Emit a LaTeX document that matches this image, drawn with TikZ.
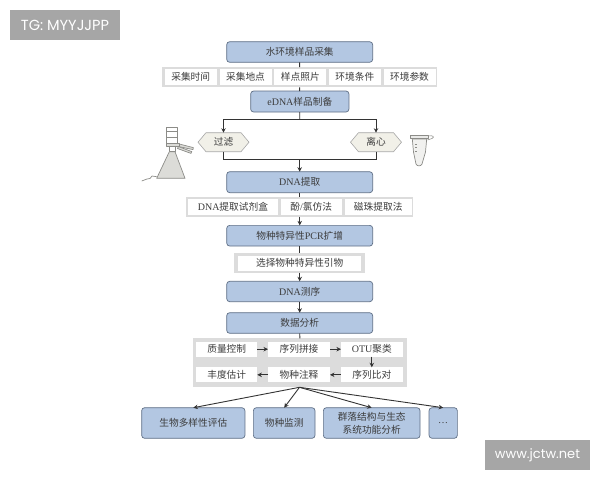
\documentclass[tikz,border=0pt]{standalone}
\usepackage{fontspec}
\setmainfont{Liberation Serif}
\newfontfamily\cjk{Noto Sans CJK SC}[Scale=0.97]
\newfontfamily\wm{Poppins}
\newcommand{\zh}[1]{{\cjk #1}}
\usetikzlibrary{arrows.meta,shapes.symbols}
\definecolor{boxblue}{HTML}{B3C7E2}
\definecolor{boxedge}{HTML}{5F6F85}
\definecolor{rowgrey}{HTML}{DCDCDC}
\definecolor{hexfill}{HTML}{F1F0E8}
\definecolor{inktext}{HTML}{3C3C3C}
\definecolor{wmgrey}{HTML}{A6A6A6}
\definecolor{flaskgrey}{HTML}{DCDCD8}
\definecolor{flaskedge}{HTML}{8C8C88}
\tikzset{
  x=1pt,y=-1pt,
  every node/.style={inner sep=0pt,outer sep=0pt,text=inktext,font=\fontsize{10}{12}\selectfont,align=center},
  bluebox/.style={draw=boxedge,line width=0.7pt,fill=boxblue,rounded corners=3pt},
  greyrow/.style={fill=rowgrey},
  cell/.style={fill=white},
  hexbox/.style={draw=gray!70,line width=0.6pt,fill=hexfill,signal,signal to=east and west,signal pointer angle=100,minimum width=51pt,minimum height=19pt},
  line/.style={draw=black!80,line width=0.9pt},
  arrow/.style={line,-{Stealth[length=4.5pt,width=4.5pt]}},
  wmbox/.style={fill=wmgrey,text=white},
  flask/.style={draw=flaskedge,line width=0.7pt,fill=flaskgrey,line join=round},
}
\begin{document}
\begin{tikzpicture}
\useasboundingbox (0,0) rectangle (600,480);
% watermarks
\node[wmbox,minimum width=110pt,minimum height=30pt,font=\wm\fontsize{14.6}{15}\selectfont] (tg) at (65,25) {TG: MYYJJPP};
\node[wmbox,minimum width=105pt,minimum height=30pt,font=\wm\fontsize{13}{14}\selectfont] (web) at (537.5,455) {www.jctw.net};
% main column
\node[bluebox,minimum width=146pt,minimum height=20.6pt] (top) at (299.7,52) {\zh{水环境样品采集}};
\node[greyrow,minimum width=275pt,minimum height=20.3pt] (row1) at (299.5,77.2) {};
\node[cell,minimum width=52pt,minimum height=16.3pt] (c1) at (190.7,77.2) {\zh{采集时间}};
\node[cell,minimum width=52pt,minimum height=16.3pt] (c2) at (245.5,77.2) {\zh{采集地点}};
\node[cell,minimum width=52pt,minimum height=16.3pt] (c3) at (300.3,77.2) {\zh{样点照片}};
\node[cell,minimum width=52pt,minimum height=16.3pt] (c4) at (354.8,77.2) {\zh{环境条件}};
\node[cell,minimum width=52pt,minimum height=16.3pt] (c5) at (409.5,77.2) {\zh{环境参数}};
\node[bluebox,minimum width=98.3pt,minimum height=21pt] (edna) at (299.8,101.5) {eDNA\zh{样品制备}};
\node[hexbox] (hexl) at (223.5,142.2) {\zh{过滤}};
\node[hexbox] (hexr) at (376,142.2) {\zh{离心}};
\node[bluebox,minimum width=146pt,minimum height=21pt] (dna) at (299.7,182.2) {DNA\zh{提取}};
\node[greyrow,minimum width=227.3pt,minimum height=19.4pt] (row2) at (299.7,207) {};
\node[cell,minimum width=89.3pt,minimum height=15.3pt] (k1) at (232.9,207) {DNA\zh{提取试剂盒}};
\node[cell,minimum width=61pt,minimum height=15.3pt] (k2) at (311.2,207) {\zh{酚}/\zh{氯仿法}};
\node[cell,minimum width=67pt,minimum height=15.3pt] (k3) at (378.2,207) {\zh{磁珠提取法}};
\node[bluebox,minimum width=146pt,minimum height=20.7pt] (pcr) at (299.7,235.7) {\zh{物种特异性}PCR\zh{扩增}};
\node[greyrow,minimum width=130.7pt,minimum height=19.4pt] (row3) at (299.7,263) {};
\node[cell,minimum width=122.7pt,minimum height=15pt] (primer) at (299.7,263) {\zh{选择物种特异性引物}};
\node[bluebox,minimum width=146pt,minimum height=20.4pt] (seq) at (299.7,291.5) {DNA\zh{测序}};
\node[bluebox,minimum width=146pt,minimum height=20.6pt] (data) at (299.7,323) {\zh{数据分析}};
\node[greyrow,minimum width=214.6pt,minimum height=49pt] (panel) at (300,362.8) {};
\node[cell,minimum width=61.3pt,minimum height=15pt] (qc) at (226.7,349.2) {\zh{质量控制}};
\node[cell,minimum width=62pt,minimum height=15pt] (join) at (299,349.2) {\zh{序列拼接}};
\node[cell,minimum width=61.7pt,minimum height=15pt] (otu) at (371.8,349.2) {OTU\zh{聚类}};
\node[cell,minimum width=61.3pt,minimum height=15pt] (abund) at (226.7,374.8) {\zh{丰度估计}};
\node[cell,minimum width=62pt,minimum height=15pt] (annot) at (299,374.8) {\zh{物种注释}};
\node[cell,minimum width=61.7pt,minimum height=15pt] (align) at (371.8,374.8) {\zh{序列比对}};
\node[bluebox,minimum width=103.3pt,minimum height=30.6pt] (b1) at (193.3,423) {\zh{生物多样性评估}};
\node[bluebox,minimum width=61.7pt,minimum height=30.6pt] (b2) at (284.2,423) {\zh{物种监测}};
\node[bluebox,minimum width=96.7pt,minimum height=30.6pt] (b3) at (371.7,423) {\zh{群落结构与生态}\\[1pt]\zh{系统功能分析}};
\node[bluebox,minimum width=28.3pt,minimum height=30.6pt] (b4) at (443.2,423) {…};
% connectors
\coordinate (split) at (299.7,119.3);
\coordinate (merge) at (299.7,159.3);
\coordinate (fan) at (299.5,387.3);
\draw[line] (top) -- (row1);
\draw[line] (row1) -- (edna);
\draw[line] (edna) -- (split);
\draw[arrow] (split) -| (hexl.north);
\draw[arrow] (split) -| (hexr.north);
\draw[line] (hexl.south) |- (merge);
\draw[line] (hexr.south) |- (merge);
\draw[arrow] (merge) -- (dna);
\draw[line] (dna) -- (row2);
\draw[arrow] (row2) -- (pcr);
\draw[line] (pcr) -- (row3);
\draw[arrow] (row3) -- (seq);
\draw[arrow] (seq) -- (data);
\draw[line] (data) -- (panel);
\draw[arrow] (qc) -- (join);
\draw[arrow] (join) -- (otu);
\draw[arrow] (otu) -- (align);
\draw[arrow] (align) -- (annot);
\draw[arrow] (annot) -- (abund);
\draw[arrow] (fan) -- (b1.north);
\draw[arrow] (fan) -- (b2.north);
\draw[arrow] (fan) -- (b3.north);
\draw[arrow] (fan) -- (b4.north);
% filtration flask
\draw[flask] (169.3,151.7) -- (175,151.7) -- (185,178.3) -- (156.7,178.3) -- cycle;
\draw[flask,fill=white] (169.3,146) rectangle (175,151.7);
\draw[flask] (179.3,144) -- (193.3,147.6) -- (193,149.6) -- (178.5,146.5) -- cycle;
\draw[flask] (178.3,146.5) -- (191.7,151.6) -- (191,153.4) -- (177.5,148.5) -- cycle;
\draw[flask,fill=white] (166.7,127) rectangle (177.3,143);
\draw[flask,fill=none] (166.7,131) -- (177.3,131) (166.7,137) -- (177.3,137);
\draw[flask] (166,143) rectangle (179,146);
\draw[draw=flaskedge,line width=0.7pt] (156.7,176.7) -- (152,176) -- (150,178.5) -- (147,179) -- (141.7,181);
% tube
\draw[flask,fill=flaskgrey!40] (412.3,139) -- (426.7,139) -- (425.5,152) -- (422,164) .. controls (421,166.5) and (417,166.5) .. (416,164) -- (413.5,152) -- cycle;
\draw[flask,fill=flaskgrey!60] (410,135.7) -- (428.3,135.7) -- (428.3,138.8) -- (410,138.8) -- cycle;
\draw[draw=flaskedge,line width=0.6pt] (428.3,136) .. controls (433,135) and (435,137) .. (432,138.5) .. controls (430,139.5) and (428,139.5) .. (427.5,140);
\draw[draw=flaskedge,line width=0.4pt] (414.5,144) -- (417,144) (414.8,147.5) -- (417,147.5) (415,151) -- (417,151);
\end{tikzpicture}
\end{document}
